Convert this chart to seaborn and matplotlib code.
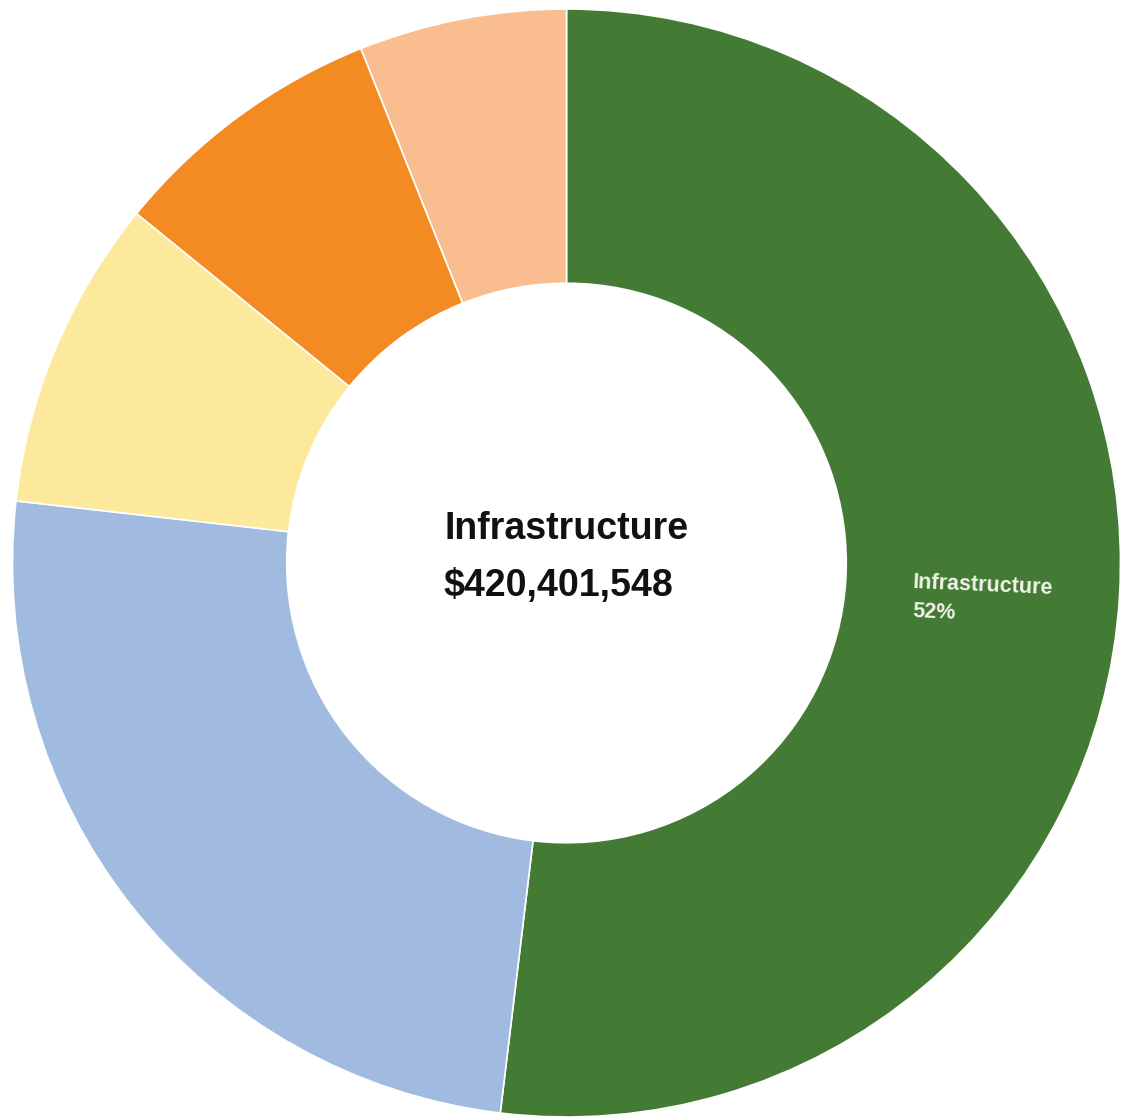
import matplotlib
matplotlib.use("Agg")
import matplotlib.pyplot as plt
import seaborn as sns

# Budget categories, clockwise from 12 o'clock
categories = ["Infrastructure", "Public Services", "Housing", "Economic Development", "Administration"]
amounts = [420401548, 201500000, 73500000, 65500000, 49000000]
colors = ["#437b35", "#a1badf", "#fde99b", "#f38a22", "#f9bd8f"]

sns.set_theme(style="white")
plt.rcParams["font.family"] = ["Liberation Sans", "DejaVu Sans"]

W, H = 1125, 1119
fig = plt.figure(figsize=(W / 100, H / 100), dpi=100)
ax = fig.add_axes([0, 0, 1, 1])

# ring geometry in pixels: centre and outer radius
R = 554.0
cx, cy = 566.5, 563.0

wedges, _ = ax.pie(
    amounts,
    colors=colors,
    startangle=90,
    counterclock=False,
    radius=1.0,
    wedgeprops=dict(width=0.495, edgecolor="white", linewidth=1.2),
)

ax.set_xlim(-cx / R, (W - cx) / R)
ax.set_ylim(-(H - cy) / R, cy / R)
ax.set_aspect("equal", adjustable="box")
ax.axis("off")


def px(x, y):
    """Pixel position -> data coordinates of the ring axes."""
    return (x - cx) / R, (cy - y) / R


total = sum(amounts)
share = amounts[0] / total

# centre caption
x0, y0 = px(cx, 539)
ax.text(x0, y0, categories[0], ha="center", va="baseline",
        fontsize=27, fontweight="bold", color="#111111")
x1, y1 = px(cx - 8, 596)
ax.text(x1, y1, f"${amounts[0]:,}", ha="center", va="baseline",
        fontsize=27, fontweight="bold", color="#111111")

# slice label on the green wedge
lx, ly = px(913, 588)
ax.text(lx, ly, categories[0], ha="left", va="baseline", rotation=-2.5,
        rotation_mode="anchor", fontsize=15.5, fontweight="bold", color="#f4f4ea")
lx2, ly2 = px(912, 617)
ax.text(lx2, ly2, f"{share:.0%}", ha="left", va="baseline", rotation=-2.5,
        rotation_mode="anchor", fontsize=15.5, fontweight="bold", color="#f4f4ea")

fig.savefig("out.png", dpi=100, facecolor="white")
